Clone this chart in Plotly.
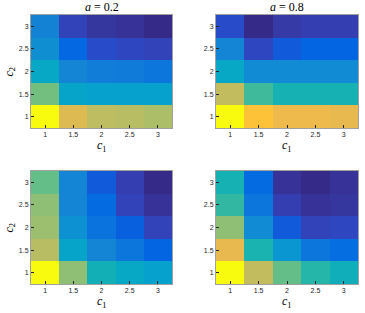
import plotly.graph_objects as go

c1 = [1, 1.5, 2, 2.5, 3]
c2 = [1, 1.5, 2, 2.5, 3]
x_ticks = ["1", "1.5", "2", "2.5", "3"]
y_ticks = ["1", "1.5", "2", "2.5", "3"]

# normalized values, rows = c2 (1 -> 3), cols = c1 (1 -> 3)
z_top_left = [
    [1.00, 0.76, 0.70, 0.69, 0.67],
    [0.58, 0.36, 0.35, 0.35, 0.35],
    [0.38, 0.25, 0.22, 0.21, 0.19],
    [0.28, 0.14, 0.08, 0.07, 0.06],
    [0.24, 0.06, 0.03, 0.02, 0.00],
]
z_top_right = [
    [1.00, 0.84, 0.79, 0.79, 0.78],
    [0.71, 0.51, 0.44, 0.44, 0.44],
    [0.38, 0.27, 0.27, 0.27, 0.27],
    [0.25, 0.07, 0.11, 0.13, 0.13],
    [0.08, 0.00, 0.04, 0.05, 0.05],
]
z_bot_left = [
    [1.00, 0.62, 0.43, 0.38, 0.35],
    [0.69, 0.36, 0.25, 0.19, 0.13],
    [0.64, 0.29, 0.18, 0.12, 0.06],
    [0.62, 0.25, 0.15, 0.06, 0.02],
    [0.56, 0.25, 0.11, 0.05, 0.00],
]
z_bot_right = [
    [1.00, 0.71, 0.56, 0.47, 0.42],
    [0.78, 0.45, 0.31, 0.19, 0.16],
    [0.62, 0.27, 0.11, 0.06, 0.07],
    [0.49, 0.19, 0.05, 0.02, 0.03],
    [0.44, 0.15, 0.02, 0.00, 0.02],
]

parula = [
    (0.2081, 0.1663, 0.5292), (0.2123, 0.2138, 0.6270), (0.1959, 0.2645, 0.7279),
    (0.1253, 0.3242, 0.8303), (0.0117, 0.3875, 0.8820), (0.0165, 0.4266, 0.8786),
    (0.0498, 0.4586, 0.8641), (0.0723, 0.4887, 0.8467), (0.0793, 0.5200, 0.8312),
    (0.0641, 0.5570, 0.8240), (0.0343, 0.5966, 0.8199), (0.0239, 0.6287, 0.8038),
    (0.0228, 0.6535, 0.7768), (0.0384, 0.6743, 0.7436), (0.0843, 0.6928, 0.7062),
    (0.1453, 0.7098, 0.6646), (0.2178, 0.7250, 0.6193), (0.3022, 0.7376, 0.5712),
    (0.3953, 0.7459, 0.5244), (0.4871, 0.7491, 0.4840), (0.5709, 0.7485, 0.4494),
    (0.6473, 0.7456, 0.4188), (0.7184, 0.7411, 0.3905), (0.7858, 0.7356, 0.3633),
    (0.8507, 0.7299, 0.3360), (0.9139, 0.7258, 0.3063), (0.9739, 0.7314, 0.2666),
    (0.9990, 0.7653, 0.2164), (0.9880, 0.8066, 0.1794), (0.9697, 0.8481, 0.1475),
    (0.9589, 0.8949, 0.1132), (0.9661, 0.9514, 0.0755), (0.9763, 0.9831, 0.0538),
]
n = len(parula)
colorscale = [[i / (n - 1), "rgb(%d,%d,%d)" % tuple(round(v * 255) for v in c)] for i, c in enumerate(parula)]

W, H = 365, 313
xdoms = [(31 / W, 172 / W), (216 / W, 358 / W)]
ydoms = [(1 - 128 / H, 1 - 15 / H), (1 - 284 / H, 1 - 171 / H)]

panels = [(z_top_left, 0, 0), (z_top_right, 0, 1), (z_bot_left, 1, 0), (z_bot_right, 1, 1)]

fig = go.Figure()
layout = {}
tickfont = dict(family="Liberation Sans, Arial", size=7, color="#262626")
for k, (z, r, c) in enumerate(panels):
    idx = "" if k == 0 else str(k + 1)
    fig.add_trace(go.Heatmap(
        z=z, x=c1, y=c2, colorscale=colorscale, zmin=0, zmax=1, showscale=False,
        xaxis="x" + idx, yaxis="y" + idx, hoverinfo="skip",
    ))
    layout["xaxis" + idx] = dict(
        domain=list(xdoms[c]), anchor="y" + idx, range=[0.75, 3.25], automargin=False,
        tickvals=c1, ticktext=x_ticks, ticks="inside", ticklen=3, tickcolor="#262626",
        showline=True, mirror=True, linecolor="#a0a0a0", linewidth=1,
        showgrid=False, zeroline=False, tickfont=tickfont,
    )
    layout["yaxis" + idx] = dict(
        domain=list(ydoms[r]), anchor="x" + idx, range=[0.75, 3.25], automargin=False,
        tickvals=c2, ticktext=y_ticks, ticks="inside", ticklen=3, tickcolor="#262626",
        showline=True, mirror=True, linecolor="#a0a0a0", linewidth=1,
        showgrid=False, zeroline=False, tickfont=tickfont,
    )

serif = dict(family="Liberation Serif, Times New Roman", size=12, color="#000000")
annotations = []
# titles
for c, txt in [(0, "<i>a</i> = 0.2"), (1, "<i>a</i> = 0.8")]:
    annotations.append(dict(text=txt, x=sum(xdoms[c]) / 2, y=1 - 7 / H, xref="paper", yref="paper",
                            showarrow=False, font=serif, xanchor="center", yanchor="middle"))
# x labels
for c in [0, 1]:
    for ypx in [146, 302]:
        annotations.append(dict(text="<i>c</i><sub>1</sub>", x=sum(xdoms[c]) / 2, y=1 - ypx / H,
                                xref="paper", yref="paper", showarrow=False, font=serif,
                                xanchor="center", yanchor="middle"))
# y labels
for r in [0, 1]:
    annotations.append(dict(text="<i>c</i><sub>2</sub>", x=10 / W, y=sum(ydoms[r]) / 2,
                            xref="paper", yref="paper", showarrow=False, font=serif, textangle=-90,
                            xanchor="center", yanchor="middle"))

fig.update_layout(
    width=W, height=H, margin=dict(l=0, r=0, t=0, b=0),
    paper_bgcolor="white", plot_bgcolor="white", showlegend=False,
    annotations=annotations, **layout,
)
fig.write_html("out.html", config={"displayModeBar": False},
               post_script="document.body.style.margin='0';document.body.style.padding='0';")
